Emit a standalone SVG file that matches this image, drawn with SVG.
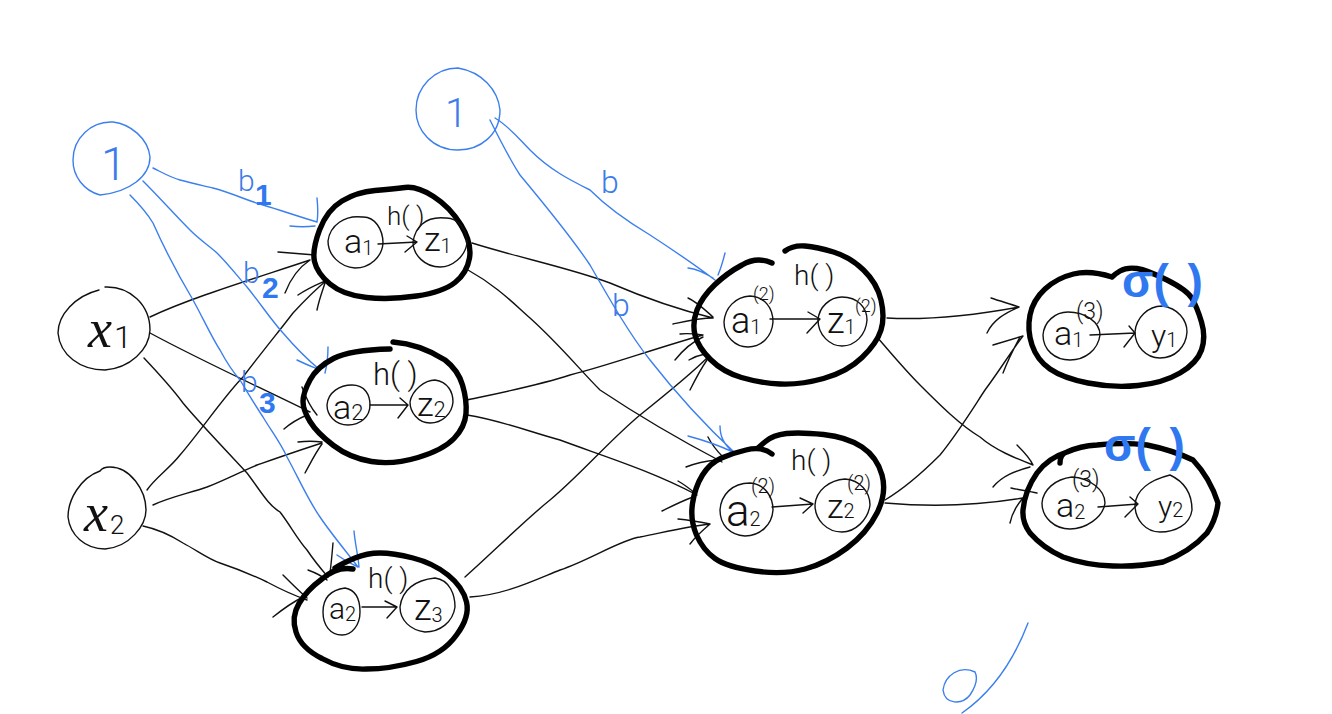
<svg xmlns="http://www.w3.org/2000/svg" width="1332" height="714" viewBox="0 0 1332 714">
<style>
.t{font-family:"Roboto","Liberation Sans",sans-serif;font-weight:300;font-style:normal;fill:#111}
.xv{font-family:"Liberation Serif",serif;font-style:italic;fill:#111}
.bt{font-family:"Roboto","Liberation Sans",sans-serif;font-weight:300;fill:#3b7bea}
.bb{font-family:"Liberation Sans",sans-serif;font-weight:700;fill:#2f78f0}
.k{fill:none;stroke:#111;stroke-width:1.4;stroke-linecap:round;stroke-linejoin:round}
.b{fill:none;stroke:#3b7fee;stroke-width:1.4;stroke-linecap:round;stroke-linejoin:round}
.h{fill:none;stroke:#000;stroke-width:5.4;stroke-linecap:round;stroke-linejoin:round}
</style>
<rect width="1332" height="714" fill="#fff"/>
<g id="connectors">
<path class="k" d="M150,317C190,298 250,280 310,260M278,252L315,255M285,293C290,280 298,268 310,260"/>
<path class="k" d="M147,490C155,478 170,468 180,455C200,432 225,395 243,377C262,352 280,330 293,313C305,300 315,290 327,280M298,295C308,288 318,284 327,280M317,310C319,300 322,292 325,283"/>
<path class="k" d="M150,333C200,360 255,385 310,412M284,429C292,422 300,418 307,415M302,387C306,398 311,408 317,415"/>
<path class="k" d="M153,505C170,497 190,493 207,487C225,480 240,472 257,465C280,457 300,450 322,443M298,442C306,441 314,441 322,442M305,473C311,462 316,452 322,444"/>
<path class="k" d="M144,358C160,375 172,388 183,403C195,418 235,460 247,473C260,490 268,505 280,512C290,525 298,540 307,550C315,562 322,570 328,577M308,570C316,573 322,576 327,580M333,543C332,555 331,565 330,573"/>
<path class="k" d="M143,526C157,529 172,536 183,543C198,551 208,559 220,563C235,568 250,574 267,582C280,589 293,595 307,600M283,575C291,583 299,591 307,598M273,617C283,609 293,602 303,597"/>
<path class="k" d="M472,243C520,258 570,268 610,283C645,298 680,310 713,318M688,298C697,302 705,310 713,317M673,324C687,321 700,318 713,318"/>
<path class="k" d="M467,400C500,393 540,385 570,375C610,365 650,350 703,335M680,334C688,333 696,334 703,335M675,360C683,350 692,342 703,337"/>
<path class="k" d="M465,577C490,555 525,520 550,500C580,475 610,440 640,415C665,395 690,375 707,358M689,360C694,357 700,355 705,354M690,390C695,380 700,370 707,360"/>
<path class="k" d="M470,597C505,595 535,580 560,570C590,560 620,540 640,537C665,532 690,526 710,524M678,519C688,520 700,522 710,524M690,544C696,536 703,530 710,524"/>
<path class="k" d="M468,270C495,285 510,300 530,318C560,345 580,370 600,390C630,410 680,440 722,462M708,437C712,445 718,452 723,457M686,467C696,463 706,461 717,460"/>
<path class="k" d="M467,415C500,420 530,432 560,440C600,455 650,470 697,495M678,481C685,485 690,489 695,493M662,511C672,506 682,501 693,497"/>
<path class="k" d="M887,318C925,320 970,316 1019,307M991,298C1000,301 1010,304 1019,307M987,333C993,320 1005,313 1019,307"/>
<path class="k" d="M877,337C890,352 905,370 920,385C940,405 960,425 980,437C995,450 1015,458 1033,465M1017,445C1024,452 1030,458 1033,465M993,487C1002,476 1015,471 1030,467"/>
<path class="k" d="M885,500C905,488 925,470 940,455C960,430 975,405 985,390C1000,370 1012,350 1023,336M993,345C1003,342 1013,339 1023,336M1003,373C1008,360 1014,348 1020,337"/>
<path class="k" d="M885,503C920,506 970,507 1023,498M1011,488C1020,490 1028,491 1037,493M1010,523C1012,513 1017,505 1023,498"/>
<path class="b" d="M153,168C165,174 172,178 180,180C195,184 205,186 213,188C235,194 248,201 263,205C280,210 300,217 317,222M317,198C318,208 318,216 317,222M290,226C298,227 307,227 315,226"/>
<path class="b" d="M143,181C160,198 175,215 190,230C200,240 208,245 217,253C230,266 238,277 247,287C260,303 272,321 283,333C295,347 308,360 320,370M297,360C305,364 313,367 320,370M328,347C328,356 327,365 325,373"/>
<path class="b" d="M130,195C140,205 147,213 153,223C165,250 180,278 193,300C203,318 212,338 220,350C228,365 233,372 240,380C248,393 255,405 263,417C272,432 280,442 287,457C297,475 308,500 320,517C330,532 345,550 358,567M337,555C344,560 351,564 358,567M354,531C355,543 358,555 359,567"/>
<path class="b" d="M495,118C510,127 520,140 530,150C550,170 570,180 590,190C605,205 625,220 650,235C670,248 695,265 715,280M688,268C697,269 705,273 713,278M725,253C723,261 721,268 718,275"/>
<path class="b" d="M490,120C500,140 510,160 520,175C545,205 570,235 590,265C610,300 630,335 650,360C675,392 705,425 735,453M688,436C703,440 718,445 733,452M720,426C720,438 725,445 733,452"/>
</g>
<g id="bias1"><path class="b" d="M73,160A38,38 0 0 1 113,122C130,124 148,138 150,157C150,176 130,192 100,195A37,36 0 0 1 73,160"/><text class="bt" x="101" y="180" font-size="46">1</text></g>
<g id="bias2"><path class="b" d="M416,110A42,42 0 0 1 458,68C482,72 498,90 500,110C500,135 480,150 458,150C432,150 416,130 416,110"/><text class="bt" x="445" y="127" font-size="40">1</text></g>
<g id="x1"><path class="k" d="M99,290C75,296 58,315 58,333C60,355 80,370 105,370C130,368 149,350 150,330C150,305 130,286 105,287"/><text class="xv" x="88" y="347" font-size="54">x<tspan class="t" font-size="32" dx="2" dy="1">1</tspan></text></g>
<g id="x2"><path class="k" d="M100,471C80,478 68,500 68,517C70,535 85,549 105,549C130,547 146,525 146,510C146,490 130,467 110,467C105,467 102,468 100,471"/><text class="xv" x="84" y="531" font-size="54">x<tspan class="t" font-size="26" dx="2" dy="3">2</tspan></text></g>
<g id="h11">
<path class="h" d="M405,187.5Q417,186 433.5,196.5Q450,207 461,225Q472,243 469.5,258Q467,273 455,282.5Q443,292 416.5,296Q390,300 366.5,297.5Q343,295 330,284Q317,273 314.5,261.5Q312,250 319.5,230Q327,210 342,201Q357,192 375,190.5Q393,189 405,187.5"/>
<path class="k" d="M328,241C330,225 345,215 362,217C375,216 383,230 383,243C382,257 370,268 355,268C340,267 328,255 328,241"/>
<path class="k" d="M413,242C415,228 425,216 445,218C458,217 467,230 467,243C465,257 452,267 440,267C425,267 413,255 413,242"/>
<path class="k" d="M378,244L417,242M407,236L417,242L405,252"/>
<text class="t" x="344" y="253" font-size="34">a<tspan font-size="20" dy="2">1</tspan></text><text class="t" x="424" y="251" font-size="34">z<tspan font-size="20" dy="2">1</tspan></text><text class="t" x="387" y="225" font-size="26">h( )</text>
</g>
<g id="h12">
<path class="h" d="M393,342Q420,344 445,360Q458,370 462.5,385Q467,400 466,413.5Q465,427 454,438.5Q443,450 418,457.5Q393,465 371.5,461.5Q350,458 333.5,445.5Q317,433 310,421.5Q303,410 303,401.5Q303,393 310,380Q317,367 333.5,358.5Q350,350 390,349"/>
<path class="k" d="M327,405C328,392 340,385 352,385C365,385 370,395 370,405C370,417 360,425 348,425C335,425 327,415 327,405"/>
<path class="k" d="M410,402C412,390 425,380 435,380C448,382 453,392 453,402C452,414 442,423 430,423C418,423 410,412 410,402"/>
<path class="k" d="M370,405L408,405M400,398L408,405L398,418"/>
<text class="t" x="333" y="419" font-size="34">a<tspan font-size="22" dy="1">2</tspan></text><text class="t" x="417" y="416" font-size="34">z<tspan font-size="22" dy="1">2</tspan></text><text class="t" x="373" y="385" font-size="31">h( )</text>
</g>
<g id="h13">
<path class="h" d="M353,569Q337,566 322,579Q307,590 299,603.5Q291,617 296,632Q301,648 322,658.5Q343,670 366.5,669Q390,669 416.5,661.5Q443,654 456.5,635Q470,617 466.5,602Q463,587 448,575Q433,563 413,558Q393,553 380,553Q367,553 355,558Q343,563 335,568"/>
<path class="k" d="M323,612C323,598 330,590 345,588C356,590 360,600 360,612C360,625 352,635 342,635C330,635 323,625 323,612"/>
<path class="k" d="M400,607C402,590 415,580 435,578C450,580 455,595 455,607C453,622 440,632 425,632C410,630 400,620 400,607"/>
<path class="k" d="M362,607L397,607M385,601L397,607L387,618"/>
<text class="t" x="329" y="619" font-size="30">a<tspan font-size="20" dy="2">2</tspan></text><text class="t" x="414" y="620" font-size="36">z<tspan font-size="20" dy="2">3</tspan></text><text class="t" x="368" y="588" font-size="28">h( )</text>
</g>
<g id="h21">
<path class="h" d="M772,263Q757,256 742,265Q727,273 714.5,285Q702,297 697,310Q692,323 695,335Q698,347 710.5,359.5Q723,372 741.5,377.5Q760,383 780,384Q800,385 823.5,378.5Q847,372 862,357.5Q877,343 881,330Q885,317 881,300Q877,283 863.5,270Q850,257 833.5,252Q817,247 805,246Q793,245 785,251"/>
<path class="k" d="M724,322C725,308 735,297 750,296C765,297 773,308 773,322C772,336 762,347 748,347C735,347 724,336 724,322"/>
<path class="k" d="M818,320C819,307 830,297 842,297C858,297 867,308 867,320C866,335 855,346 842,346C830,346 818,335 818,320"/>
<path class="k" d="M770,319L820,319M808,312L820,319L807,333"/>
<text class="t" x="731" y="333" font-size="36">a<tspan font-size="20" dy="1">1</tspan></text><text class="t" x="827" y="333" font-size="36">z<tspan font-size="20" dy="1">1</tspan></text><text class="t" x="753" y="300" font-size="18">(2)</text><text class="t" x="855" y="312" font-size="18">(2)</text><text class="t" x="794" y="285" font-size="28">h( )</text>
</g>
<g id="h22">
<path class="h" d="M772,454Q762,446 746,450Q733,453 721.5,458Q710,463 702.5,475Q695,487 692.5,503.5Q690,520 696.5,535Q703,550 715,558.5Q727,567 755,571Q783,575 805,569Q827,563 847,548Q867,533 877,513Q887,493 882,475Q877,457 862,447Q847,437 823.5,434.5Q800,432 786.5,433.5Q773,435 765.5,441.5Q760,446 758,448"/>
<path class="k" d="M720,510C721,495 732,483 750,483C765,484 773,497 773,510C772,525 760,536 745,536C730,535 720,525 720,510"/>
<path class="k" d="M815,505C816,490 830,480 845,479C860,480 870,492 870,505C868,520 855,532 842,532C827,532 815,520 815,505"/>
<path class="k" d="M772,507L813,504M800,498L813,504L803,513"/>
<text class="t" x="726" y="526" font-size="44">a<tspan font-size="20">2</tspan></text><text class="t" x="827" y="518" font-size="34">z<tspan font-size="20">2</tspan></text><text class="t" x="751" y="493" font-size="20">(2)</text><text class="t" x="847" y="490" font-size="20">(2)</text><text class="t" x="791" y="470" font-size="28">h( )</text>
</g>
<g id="o1">
<path class="h" d="M1112,277Q1090,270 1073.5,274Q1057,278 1045,289Q1033,300 1030,315Q1027,330 1032,345Q1037,360 1050,369Q1063,378 1088,383Q1113,388 1138,385.5Q1163,383 1180,373Q1197,363 1201.5,350Q1206,337 1201.5,322Q1197,307 1192,298.5Q1187,290 1167,280Q1147,270 1137,268.5Q1127,267 1120,271Q1115,274 1112,277"/>
<path class="k" d="M1043,335C1044,322 1055,312 1068,312C1085,312 1100,322 1100,335C1098,350 1085,360 1070,360C1055,360 1043,350 1043,335"/>
<path class="k" d="M1135,332C1136,318 1148,306 1162,306C1178,308 1187,320 1187,332C1186,347 1175,358 1160,358C1146,358 1135,346 1135,332"/>
<path class="k" d="M1090,335L1135,333M1129,326L1135,333L1124,347"/>
<text class="t" x="1054" y="345" font-size="34">a<tspan font-size="20" dy="2">1</tspan></text><text class="t" x="1151" y="347" font-size="32">y<tspan font-size="20">1</tspan></text><text class="t" x="1076" y="319" font-size="23">(3)</text>
<text class="bb" x="1122" y="297" font-size="46" word-spacing="6">σ( )</text>
</g>
<g id="o2">
<path class="h" d="M1060,463Q1060,454 1067,452Q1080,446 1097,445Q1122,442 1147,445Q1172,450 1193,460Q1210,478 1218,503Q1216,520 1207,533Q1190,552 1163,562Q1138,567 1113,566Q1085,565 1063,557Q1043,548 1030,533Q1022,522 1023,510Q1025,490 1037,473Q1048,458 1067,452"/>
<path class="k" d="M1042,503C1043,490 1055,479 1072,477C1090,478 1105,490 1105,503C1103,518 1085,529 1070,529C1055,529 1042,518 1042,503"/>
<path class="k" d="M1135,505C1136,490 1150,480 1170,475C1185,482 1192,495 1192,510C1190,525 1175,532 1160,532C1146,532 1135,520 1135,505"/>
<path class="k" d="M1098,507L1138,504M1130,497L1138,504L1125,517"/>
<text class="t" x="1056" y="517" font-size="34">a<tspan font-size="20" dy="2">2</tspan></text><text class="t" x="1158" y="517" font-size="30">y<tspan font-size="20">2</tspan></text><text class="t" x="1072" y="487" font-size="23">(3)</text>
<text class="bb" x="1104" y="461" font-size="46" word-spacing="6">σ( )</text>
</g>
<g id="labels">
<text class="bt" x="238" y="191" font-size="30">b</text><text class="bb" x="255" y="205" font-size="30">1</text>
<text class="bt" x="243" y="283" font-size="30">b</text><text class="bb" x="262" y="298" font-size="30">2</text>
<text class="bt" x="241" y="392" font-size="30">b</text><text class="bb" x="259" y="413" font-size="30">3</text>
<text class="bt" x="601" y="193" font-size="32">b</text><text class="bt" x="612" y="316" font-size="32">b</text>
</g>
<path class="b" d="M1028,623C1012,665 988,695 962,713M975,672C960,665 945,675 943,690C945,705 962,705 970,695C976,686 978,678 975,672"/>
</svg>
